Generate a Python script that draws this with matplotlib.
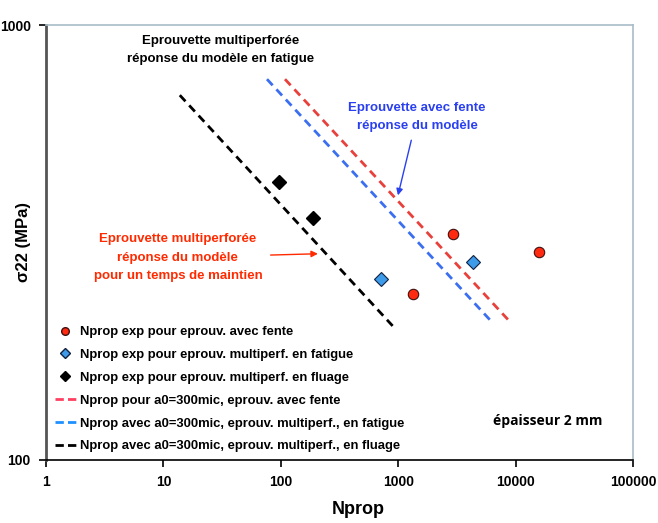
import matplotlib
matplotlib.use("Agg")
import matplotlib.pyplot as plt
from matplotlib.lines import Line2D

plt.rcParams['font.family'] = ['Liberation Sans', 'DejaVu Sans']

# experimental points
fente_n = [1340, 2930, 15800]
fente_s = [241, 331, 301]
fatigue_n = [713, 4335]
fatigue_s = [261, 285]
fluage_n = [96.5, 188]
fluage_s = [436, 360]

# model lines (end points)
model_fente_n = [108.6, 8955]
model_fente_s = [751, 208]
model_fatigue_n = [76.3, 6050]
model_fatigue_s = [751, 210]
model_fluage_n = [13.8, 903]
model_fluage_s = [690, 203]

x_ticks = [1, 10, 100, 1000, 10000, 100000]
y_ticks = [100, 1000]

fig = plt.figure(figsize=(6.58, 5.23), dpi=100)
ax = fig.add_axes([0.0699, 0.1205, 0.892, 0.8315])

ax.plot(model_fente_n, model_fente_s, ls=(0, (3, 2)), c='#e8413c', lw=2)
ax.plot(model_fatigue_n, model_fatigue_s, ls=(0, (3, 2)), c='#3b6ff0', lw=2)
ax.plot(model_fluage_n, model_fluage_s, ls=(0, (3, 2)), c='black', lw=2)

ax.plot(fente_n, fente_s, 'o', ms=7.5, mfc='#ff2a10', mec='#401010', mew=0.8)
ax.plot(fatigue_n, fatigue_s, 'D', ms=7, mfc='#3d9be9', mec='#102040', mew=0.8)
ax.plot(fluage_n, fluage_s, 'D', ms=7, mfc='black', mec='black')

ax.set_xscale('log')
ax.set_yscale('log')
ax.set_xlim(1, 100000)
ax.set_ylim(100, 1000)
ax.minorticks_off()
ax.set_xticks(x_ticks)
ax.set_xticklabels([str(v) for v in x_ticks], fontsize=10, fontweight='bold')
ax.set_yticks(y_ticks)
ax.set_yticklabels([str(v) for v in y_ticks], fontsize=10, fontweight='bold')
ax.tick_params(length=5, width=1.2, pad=6)

ax.spines['left'].set_color('#555555')
ax.spines['left'].set_linewidth(2)
ax.spines['bottom'].set_linewidth(1.2)
for s in ['top', 'right']:
    ax.spines[s].set_color('#a8bcc8')
    ax.spines[s].set_linewidth(1.2)

# axis titles placed in figure pixels
fig.text(358 / 658, 1 - 510 / 523, "Nprop", ha='center', va='center',
         fontsize=13, fontweight='bold')
fig.text(24 / 658, 1 - 242 / 523, "σ22 (MPa)", ha='center', va='center',
         rotation=90, fontsize=12, fontweight='bold')

ax.text(31, 877, "Eprouvette multiperforée\nréponse du modèle en fatigue",
        ha='center', va='center', fontsize=9.5, fontweight='bold',
        linespacing=1.7)
ax.annotate("Eprouvette avec fente\nréponse du modèle", xy=(996, 406),
            xytext=(1446, 615), ha='center', va='center', fontsize=9.5,
            fontweight='bold', color='#2a40f0', linespacing=1.7,
            arrowprops=dict(arrowstyle='-|>', color='#2a40f0', lw=1,
                            shrinkA=4, shrinkB=0))
ax.annotate("Eprouvette multiperforée\nréponse du modèle\npour un temps de maintien",
            xy=(207, 298), xytext=(13.3, 292), ha='center', va='center',
            fontsize=9.5, fontweight='bold', color='#ff2a00', linespacing=1.75,
            arrowprops=dict(arrowstyle='-|>', color='#ff2a00', lw=1,
                            shrinkA=4, shrinkB=0))
ax.text(18900, 123, "épaisseur 2 mm", ha='center', va='center',
        fontsize=10, fontweight='bold', family=['Open Sans', 'DejaVu Sans'])

handles = [
    Line2D([], [], ls='', marker='o', ms=5.5, mfc='#ff2a10', mec='#401010'),
    Line2D([], [], ls='', marker='D', ms=5, mfc='#3d9be9', mec='#102040'),
    Line2D([], [], ls='', marker='D', ms=5, mfc='black', mec='black'),
    Line2D([], [], ls=(0, (3, 1.5)), c='#ff4060', lw=2),
    Line2D([], [], ls=(0, (3, 1.5)), c='#1e90ff', lw=2),
    Line2D([], [], ls=(0, (3, 1.5)), c='black', lw=2),
]
labels = [
    "Nprop exp pour eprouv. avec fente",
    "Nprop exp pour eprouv. multiperf. en fatigue",
    "Nprop exp pour eprouv. multiperf. en fluage",
    "Nprop pour a0=300mic, eprouv. avec fente",
    "Nprop avec a0=300mic, eprouv. multiperf., en fatigue",
    "Nprop avec a0=300mic, eprouv. multiperf., en fluage",
]
leg = ax.legend(handles, labels, loc='upper left', bbox_to_anchor=(-0.005, 0.335),
                frameon=False, handlelength=1.6, handletextpad=0.3,
                labelspacing=0.82, prop=dict(weight='bold', size=9.4))

fig.savefig("out.png", dpi=100)
